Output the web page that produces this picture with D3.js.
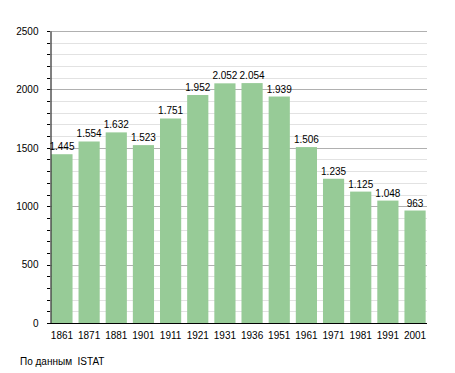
<!DOCTYPE html>
<html>
<head>
<meta charset="utf-8">
<script src="https://cdn.jsdelivr.net/npm/d3@7"></script>
<style>
body { margin: 0; background: #fff; }
text { font-family: "Liberation Sans", Arial, sans-serif; font-size: 10px; fill: #000; white-space: pre; }
</style>
</head>
<body>
<svg id="chart"></svg>
<script>
var width = 455;
var height = 373;
var plotLeft = 50, plotRight = 427, plotTop = 31, plotBottom = 323;

var years = ["1861", "1871", "1881", "1901", "1911", "1921", "1931", "1936", "1951", "1961", "1971", "1981", "1991", "2001"];
var population = [1445, 1554, 1632, 1523, 1751, 1952, 2052, 2054, 1939, 1506, 1235, 1125, 1048, 963];
var yTicks = [0, 500, 1000, 1500, 2000, 2500];
var source = "По данным  ISTAT";

var svg = d3.select("#chart").attr("width", width).attr("height", height);

var x = d3.scaleBand().domain(years).range([plotLeft, plotRight]).paddingInner(0.22).paddingOuter(0.05);
var y = d3.scaleLinear().domain([0, 2500]).range([plotBottom, plotTop]);

// minor grid every 100
svg.append("g").selectAll("line").data(d3.range(100, 2600, 100).filter(function(d) { return d % 500 != 0; }))
    .enter().append("line")
    .attr("x1", plotLeft).attr("x2", plotRight)
    .attr("y1", function(d) { return Math.round(y(d)) + 0.5; })
    .attr("y2", function(d) { return Math.round(y(d)) + 0.5; })
    .attr("stroke", "#e2e2e2");

// major grid
svg.append("g").selectAll("line").data(yTicks.slice(1))
    .enter().append("line")
    .attr("x1", plotLeft).attr("x2", plotRight)
    .attr("y1", function(d) { return Math.round(y(d)) + 0.5; })
    .attr("y2", function(d) { return Math.round(y(d)) + 0.5; })
    .attr("stroke", "#b0b0b0");

svg.append("g").selectAll("rect").data(population)
    .enter().append("rect")
    .attr("x", function(d, i) { return x(years[i]); })
    .attr("y", function(d) { return y(d); })
    .attr("width", x.bandwidth())
    .attr("height", function(d) { return plotBottom - y(d); })
    .attr("fill", "#97cb97");

var fmt = d3.formatLocale({decimal: ",", thousands: ".", grouping: [3], currency: ["", ""]}).format(",");

svg.append("g").selectAll("text").data(population)
    .enter().append("text")
    .attr("x", function(d, i) { return x(years[i]) + x.bandwidth() / 2; })
    .attr("y", function(d) { return y(d) - 4; })
    .attr("text-anchor", "middle")
    .text(function(d) { return fmt(d); });

// left axis with minor ticks
var axisY = d3.axisLeft(y).tickValues(yTicks).tickSize(0).tickPadding(12).tickFormat(d3.format("d"));
var gy = svg.append("g").attr("transform", "translate(" + (plotLeft + 0.5) + ",0)").call(axisY);
gy.select(".domain").attr("stroke", "#000");
gy.selectAll("text").style("font-family", "Liberation Sans, Arial, sans-serif").style("font-size", "10px");
svg.append("g").selectAll("line").data(d3.range(0, 2600, 100))
    .enter().append("line")
    .attr("x1", plotLeft - 3).attr("x2", plotLeft)
    .attr("y1", function(d) { return Math.round(y(d)) + 0.5; })
    .attr("y2", function(d) { return Math.round(y(d)) + 0.5; })
    .attr("stroke", "#000");

var axisX = d3.axisBottom(x).tickSize(0).tickPadding(8);
var gx = svg.append("g").attr("transform", "translate(0," + (plotBottom + 0.5) + ")").call(axisX);
gx.select(".domain").attr("stroke", "#000").attr("d", "M" + plotLeft + ",0H" + plotRight);
gx.selectAll("text").style("font-family", "Liberation Sans, Arial, sans-serif").style("font-size", "10px");

svg.append("text").attr("x", 20).attr("y", 365).text(source);
</script>
</body>
</html>
